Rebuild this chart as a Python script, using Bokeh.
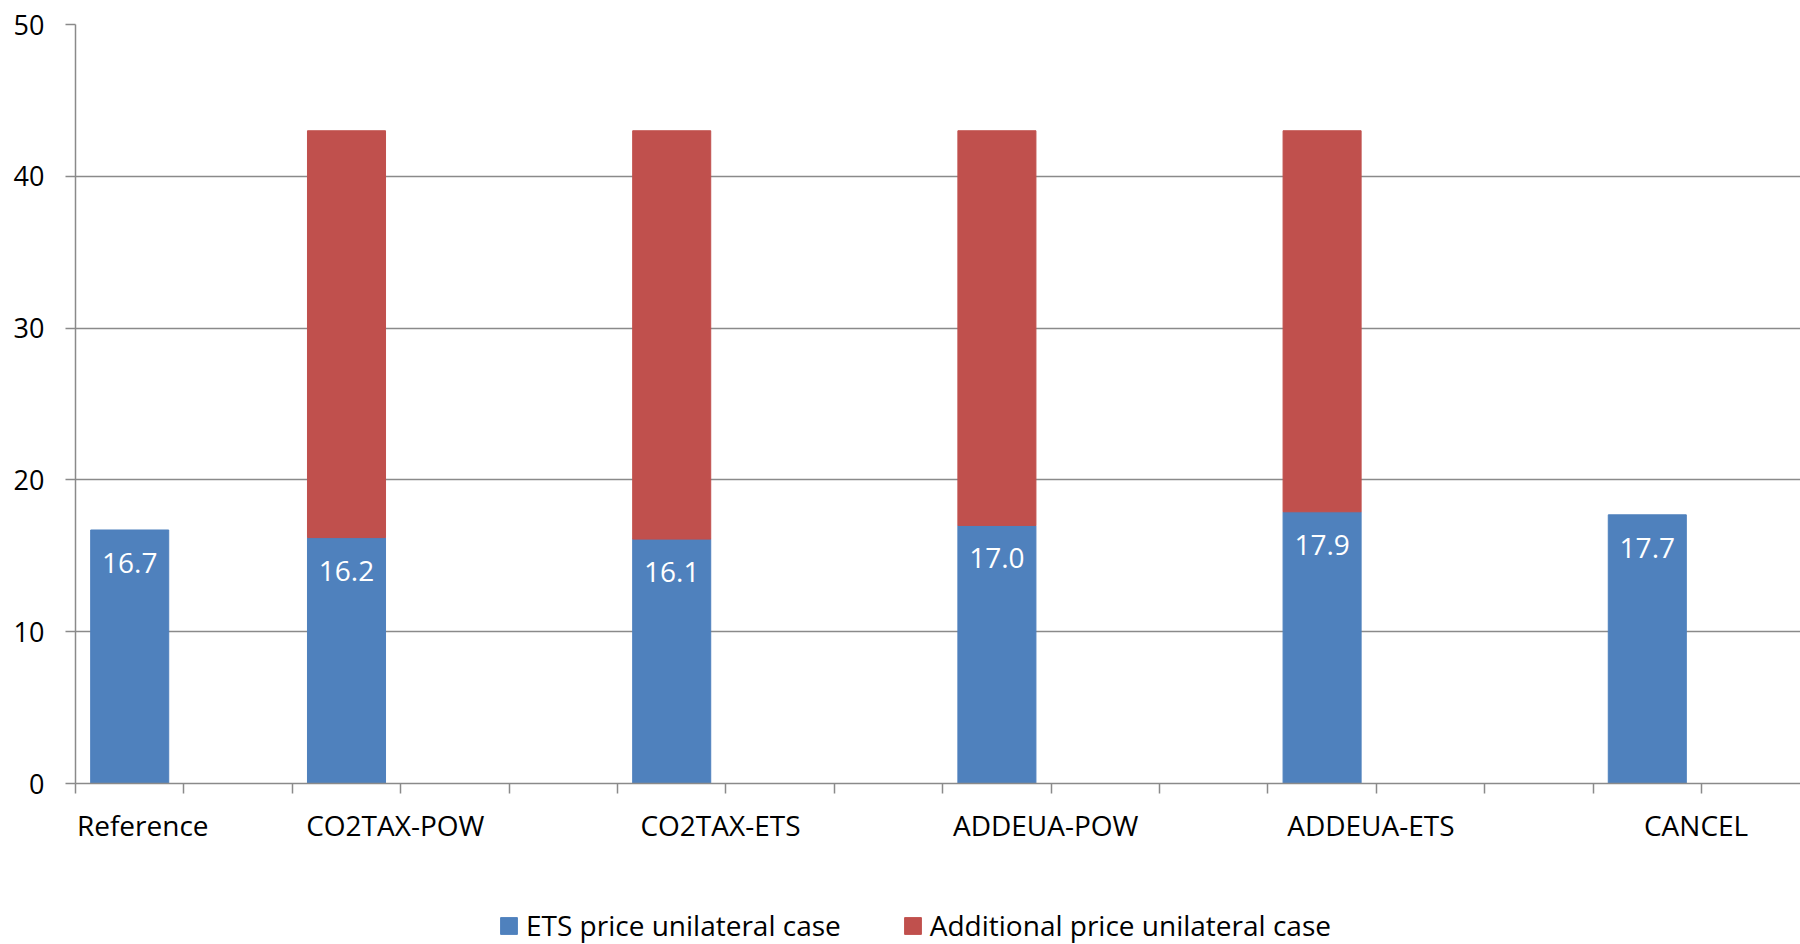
from bokeh.plotting import figure
from bokeh.layouts import column
from bokeh.models import (ColumnDataSource, Range1d, FixedTicker, Legend, LegendItem)
from bokeh.core.properties import value
from bokeh.embed import file_html
from bokeh.resources import INLINE

# ---- data (category axis includes empty slots, as in the source sheet) ----
categories = ["Reference", "", "CO2TAX-POW", "", "", "CO2TAX-ETS", "", "",
              "ADDEUA-POW", "", "", "ADDEUA-ETS", "", "", "CANCEL", ""]
ets_price = [16.7, None, 16.2, None, None, 16.1, None, None,
             17.0, None, None, 17.9, None, None, 17.7, None]
additional_price = [None, None, 26.8, None, None, 26.9, None, None,
                    26.0, None, None, 25.1, None, None, None, None]
series_names = ["ETS price unilateral case", "Additional price unilateral case"]
y_ticks = [0, 10, 20, 30, 40, 50]

# ---- styling ----
FONT = "Open Sans"
FS = "28px"
FS_Y = "27px"
BLUE = "#4F81BD"
RED = "#C0504D"
GRID = "#8A8A8A"

# ---- build sources ----
xs, ets_v, lbl = [], [], []
ax, ab, at = [], [], []
for i, (c, e, a) in enumerate(zip(categories, ets_price, additional_price)):
    if e is not None:
        xs.append(i + 0.5)
        ets_v.append(e)
        lbl.append(f"{e:.1f}")
        if a is not None:
            ax.append(i + 0.5)
            ab.append(e)
            at.append(e + a)

src_ets = ColumnDataSource(dict(x=xs, top=ets_v, label=lbl))
src_add = ColumnDataSource(dict(x=ax, bottom=ab, top=at))

W = 1800
H_MAIN, H_LEG = 900, 44
LEFT, TOP = 75, 24
FRAME_BOTTOM = 783
slot_px = 108.4
n_visible = (W - LEFT) / slot_px

p = figure(width=W, height=H_MAIN, output_backend="svg", toolbar_location=None,
           x_range=Range1d(0, n_visible), y_range=Range1d(0, 50),
           min_border_left=LEFT, min_border_right=0, min_border_top=TOP,
           min_border_bottom=H_MAIN - FRAME_BOTTOM)
p.outline_line_color = None
p.background_fill_color = "white"
p.border_fill_color = "white"

p.vbar(x="x", bottom=0, top="top", width=0.72, source=src_ets,
       fill_color=BLUE, line_color=BLUE)
p.vbar(x="x", bottom="bottom", top="top", width=0.72, source=src_add,
       fill_color=RED, line_color=RED)

p.text(x="x", y="top", text="label", source=src_ets, text_color="white",
       text_font=value(FONT), text_font_size=FS, text_align="center",
       text_baseline="middle", y_offset=33)

# x axis: tick marks at category boundaries (minor ticks), labels centred near
# the boundary after each named category; the first label sits flush with the axis start
label_pos, overrides = [], {}
for i, c in enumerate(categories):
    if c:
        pos = i + 0.62 if not label_pos else i + 0.95
        label_pos.append(pos)
        overrides[pos] = c

p.xaxis.ticker = FixedTicker(ticks=label_pos,
                             minor_ticks=list(range(len(categories) + 1)))
p.xaxis.major_label_overrides = overrides
p.xaxis.major_label_text_font = FONT
p.xaxis.major_label_text_font_size = FS
p.xaxis.major_label_text_color = "black"
p.xaxis.major_label_standoff = 12
p.xaxis.major_tick_out = 0
p.xaxis.major_tick_in = 0
p.xaxis.minor_tick_out = 10
p.xaxis.minor_tick_in = 0
p.xaxis.minor_tick_line_color = GRID
p.xaxis.minor_tick_line_width = 1.5
p.xaxis.axis_line_color = GRID
p.xaxis.axis_line_width = 1.5

p.yaxis.ticker = FixedTicker(ticks=y_ticks)
p.yaxis.major_label_text_font = FONT
p.yaxis.major_label_text_font_size = FS_Y
p.yaxis.major_label_text_color = "black"
p.yaxis.major_label_standoff = 21
p.yaxis.major_tick_out = 10
p.yaxis.major_tick_in = 0
p.yaxis.minor_tick_line_color = None
p.yaxis.axis_line_color = GRID
p.yaxis.axis_line_width = 1.5
p.yaxis.major_tick_line_color = GRID
p.yaxis.major_tick_line_width = 1.5

p.xgrid.grid_line_color = None
p.ygrid.ticker = FixedTicker(ticks=y_ticks[1:])
p.ygrid.grid_line_color = GRID
p.ygrid.grid_line_width = 1.5

# ---- legend strip below the chart ----
pl = figure(width=W, height=H_LEG, output_backend="svg", toolbar_location=None,
            x_range=Range1d(0, 1), y_range=Range1d(0, 1),
            x_axis_location=None, y_axis_location=None,
            min_border_left=0, min_border_right=0, min_border_top=0,
            min_border_bottom=0)
pl.outline_line_color = None
pl.xgrid.visible = False
pl.ygrid.visible = False
nan = float("nan")
# swatch-only renderers (no drawable data) so the legend can show the series colours
lr_ets = pl.vbar(x=[nan], top=[nan], width=0.5, fill_color=BLUE, line_color=BLUE)
lr_add = pl.vbar(x=[nan], top=[nan], width=0.5, fill_color=RED, line_color=RED)

legend = Legend(items=[LegendItem(label=series_names[0], renderers=[lr_ets]),
                       LegendItem(label=series_names[1], renderers=[lr_add])],
                orientation="horizontal", location=(423, 0),
                glyph_width=21, glyph_height=21, label_standoff=7, spacing=61,
                padding=0, margin=0, border_line_color=None,
                background_fill_alpha=0, label_text_font=FONT,
                label_text_font_size=FS, label_text_color="black")
pl.add_layout(legend, "center")

layout = column(p, pl, spacing=0)
open("out.html", "w").write(file_html(layout, INLINE))
